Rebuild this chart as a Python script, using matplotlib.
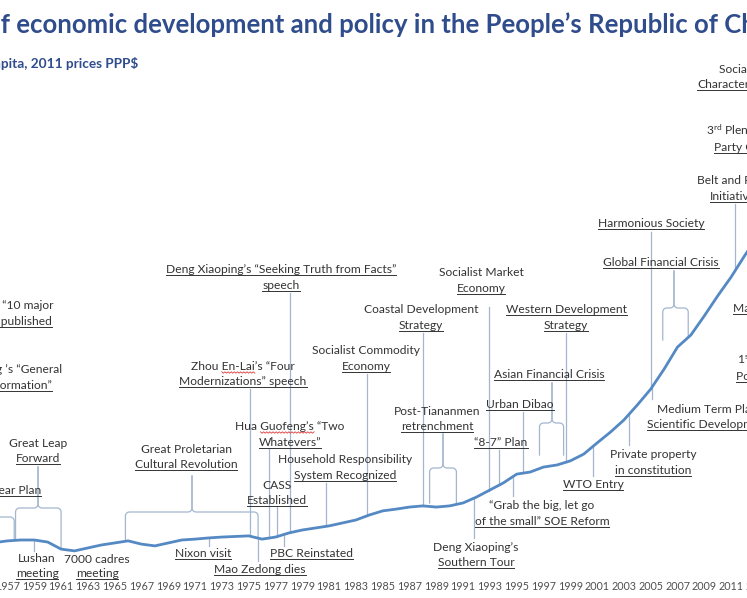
import numpy as np
import matplotlib
matplotlib.use('Agg')
import matplotlib.pyplot as plt
from matplotlib.font_manager import FontProperties

# ----------------------------- data -----------------------------
years = np.arange(1956, 2014)
gdp_per_capita = np.array([
    930, 990, 1020, 1020, 950, 710, 650, 750, 850, 920,
    990, 880, 820, 920, 1020, 1050, 1090, 1120, 1140, 1160,
    1050, 1120, 1260, 1360, 1430, 1500, 1600, 1700, 1870, 2010,
    2070, 2140, 2180, 2140, 2180, 2280, 2480, 2720, 2960, 3260,
    3330, 3500, 3570, 3710, 3940, 4320, 4690, 5100, 5610, 6150,
    6830, 7580, 7990, 8640, 9320, 9960, 10680, 11360])

tick_years = np.arange(1957, 2014, 2)
tick_labels = [str(y) for y in tick_years]

title = 'Timeline of economic development and policy in the People\u2019s Republic of China'
subtitle = 'GDP per capita, 2011 prices PPP$'

event_text = {
    'ten_major': ['Mao Zedong\u2019s \u201c10 major', 'relationships\u201d published'],
    'general_line': ['Mao Zedong \u2019s \u201cGeneral', 'Line for Socialist Transformation\u201d'],
    'five_year': ['First Five Year Plan'],
    'glf': ['Great Leap', 'Forward'],
    'lushan': ['Lushan', 'meeting'],
    'cadres': ['7000 cadres', 'meeting'],
    'cr': ['Great Proletarian', 'Cultural Revolution'],
    'nixon': ['Nixon visit'],
    'mao_dies': ['Mao Zedong dies'],
    'pbc': ['PBC Reinstated'],
    'cass': ['CASS', 'Established'],
    'hua': ['Hua Guofeng\u2019s \u201cTwo', 'Whatevers\u201d'],
    'zhou': ['Zhou En-Lai\u2019s \u201cFour', 'Modernizations\u201d speech'],
    'truth': ['Deng Xiaoping\u2019s \u201cSeeking Truth from Facts\u201d', 'speech'],
    'household': ['Household Responsibility', 'System Recognized'],
    'commodity': ['Socialist Commodity', 'Economy'],
    'coastal': ['Coastal Development', 'Strategy'],
    'post_t': ['Post-Tiananmen', 'retrenchment'],
    'southern': ['Deng Xiaoping\u2019s', 'Southern Tour'],
    'soc_market': ['Socialist Market', 'Economy'],
    'eight_seven': ['\u201c8-7\u201d Plan'],
    'dibao': ['Urban Dibao'],
    'grab': ['\u201cGrab the big, let go', 'of the small\u201d SOE Reform'],
    'asian': ['Asian Financial Crisis'],
    'western': ['Western Development', 'Strategy'],
    'wto': ['WTO Entry'],
    'private': ['Private property', 'in constitution'],
    'medium': ['Medium Term Plan for S&T', 'Scientific Development Concept'],
    'harmonious': ['Harmonious Society'],
    'gfc': ['Global Financial Crisis'],
    'made_in_china': ['Made in China 2025'],
    'first_po': [r'1$^{\rm st}$ Targeted', 'Poverty Alleviation'],
    'plenum': [r'3$^{\rm rd}$ Plenum of 18th', 'Party Congress'],
    'belt': ['Belt and Road', 'Initiative'],
    'socialism': ['Socialism with Chinese', 'Characteristics'],
}

# year (or period) each event points at
event_year = {
    'five_year': (1953.0, 1957.5),
    'glf': (1957.6, 1961.0),
    'lushan': 1959.0,
    'cr': (1965.8, 1975.7),
    'nixon': 1972.0,
    'mao_dies': 1975.7,
    'pbc': 1977.6,
    'cass': 1977.1,
    'hua': 1976.5,
    'zhou': 1975.1,
    'truth': 1978.1,
    'household': 1980.8,
    'commodity': 1983.8,
    'coastal': 1988.0,
    'post_t': (1988.5, 1990.5),
    'southern': 1991.8,
    'soc_market': 1992.9,
    'eight_seven': 1993.7,
    'dibao': 1995.5,
    'grab': 1994.7,
    'asian': (1996.7, 1998.5),
    'western': 1998.7,
    'wto': 2000.7,
    'private': 2003.4,
    'medium': 2005.1,
    'harmonious': 2005.0,
    'gfc': (2005.9, 2007.8),
    'belt': 2011.3,
}

# ----------------------------- layout (pixels) -----------------------------
W, H, DPI = 747, 598, 100
X0, PXY = 7.5, 13.4        # pixel column of 1957, pixels per year
Y0, VPP = 570.0, 34.0      # pixel row of zero, value per pixel

FONT = 'Lato'
TEXT = '#333333'
CONN = '#a3b6ce'
LINE = '#5489c4'
TITLE_C = '#2f4c8c'
TICK_C = '#505050'

LAYOUT = {
    'ten_major': dict(x=[53, 52], ha='right', ys=[305, 321], ul=[1]),
    'general_line': dict(x=[62, 52], ha='right', ys=[369, 385], ul=[1]),
    'five_year': dict(x=41, ha='right', ys=[490], ul=[0],
                      brace=dict(stem=-16, top=498, arm=517, bot=(None, None))),
    'glf': dict(x=38, ys=[443, 458], ul=[1],
                brace=dict(stem=38, top=467, arm=508, bot=(None, None))),
    'lushan': dict(x=37, ys=[558, 573], ul=[1], conn=551),
    'cadres': dict(x=97, ys=[559, 573], ul=[1]),
    'cr': dict(x=186, ys=[449, 464], ul=[1],
               brace=dict(stem=192, top=476, arm=512, bot=(None, None))),
    'nixon': dict(x=203, ys=[553], ul=[0], conn=546),
    'mao_dies': dict(x=260, ys=[569], ul=[0], conn=561),
    'pbc': dict(x=311, ys=[553], ul=[0], conn=546),
    'cass': dict(x=277, ys=[485, 500], ul=[1], conn=507),
    'hua': dict(x=290, ys=[426, 442], ul=[1], conn=449, sq=(0, 'Hua ', 'Guofeng\u2019s')),
    'zhou': dict(x=243, ys=[366, 381], ul=[1], conn=389, sq=(0, 'Zhou ', 'En-Lai')),
    'truth': dict(x=281, ys=[269, 285], ul=[0, 1], conn=293),
    'household': dict(x=345, ys=[459, 475], ul=[1], conn=483),
    'commodity': dict(x=366, ys=[350, 366], ul=[1], conn=374),
    'coastal': dict(x=421, ys=[309, 325], ul=[1], conn=333),
    'post_t': dict(x=437, ys=[411, 426], ul=[1],
                   brace=dict(stem=443, top=434, arm=468, bot=(503, 503))),
    'southern': dict(x=476, ys=[547, 562], ul=[1], conn=538),
    'soc_market': dict(x=481, ys=[272, 288], ul=[1], conn=307),
    'eight_seven': dict(x=501, ys=[442], ul=[0], conn=450),
    'dibao': dict(x=520, ys=[404], ul=[0], conn=412),
    'grab': dict(x=542, ys=[505, 521], ul=[1], conn=496),
    'asian': dict(x=549, ys=[374], ul=[0],
                  brace=dict(stem=552, top=383, arm=423, bot=(455, 455))),
    'western': dict(x=566, ys=[309, 325], ul=[0, 1], conn=333),
    'wto': dict(x=593, ys=[484], ul=[0], conn=476),
    'private': dict(x=653, ys=[454, 470], ul=[1], conn=445),
    'medium': dict(x=[657, 647], ha='left', ys=[409, 424], ul=[1], conn=399),
    'harmonious': dict(x=651, ys=[223], ul=[0], conn=232),
    'gfc': dict(x=661, ys=[262], ul=[0],
                brace=dict(stem=674, top=271, arm=308, bot=(340, None))),
    'made_in_china': dict(x=733, ha='left', ys=[308], ul=[0]),
    'first_po': dict(x=[737, 736], ha='left', ys=[360, 376], ul=[1]),
    'plenum': dict(x=[706, 714], ha='left', ys=[131, 147], ul=[1]),
    'belt': dict(x=[697, 710], ha='left', ys=[180, 196], ul=[1], conn=204),
    'socialism': dict(x=[719, 697], ha='left', ys=[69, 84], ul=[1]),
}


def yr(px):
    return 1957 + (px - X0) / PXY


def xpx(y):
    return X0 + (y - 1957) * PXY


def val(py):
    return (Y0 - py) * VPP


def ypx(v):
    return Y0 - v / VPP


def line_px_at(year):
    return ypx(np.interp(year, years, gdp_per_capita))


plt.rcParams['mathtext.fontset'] = 'custom'
plt.rcParams['mathtext.rm'] = FONT
plt.rcParams['mathtext.it'] = FONT + ':italic'
plt.rcParams['mathtext.bf'] = FONT + ':bold'

fig = plt.figure(figsize=(W / DPI, H / DPI), dpi=DPI)
fig.patch.set_facecolor('white')
ax = fig.add_axes([0, 0, 1, 1])
ax.set_xlim(yr(0), yr(W))
ax.set_ylim(val(H), val(0))
ax.axis('off')

renderer = fig.canvas.get_renderer()


def text_w(s, size, weight='normal'):
    prop = FontProperties(family=FONT, size=size, weight=weight)
    w, h, d = renderer.get_text_width_height_descent(s, prop, ismath=False)
    return w


# font sizes fitted to measured widths in the reference
refs = [('Great Proletarian', 90), ('Household Responsibility', 131),
        ('Global Financial Crisis', 112), ('Deng Xiaoping\u2019s \u201cSeeking Truth from Facts\u201d', 245)]
ann_fs = float(np.mean([10 * w / text_w(s, 10) for s, w in refs]))
tick_fs = 10 * 25 / text_w('1987', 10)
vis_title = 'f economic development and policy in the People\u2019s Republic of '
title_fs = 16 * 727 / text_w(vis_title, 16, 'bold')
sub_fs = 10 * 137 / text_w('pita, 2011 prices PPP$', 10, 'bold')

# title & subtitle (cropped on the left like the reference)
tx = 1 - text_w('Timeline o', title_fs, 'bold')
ax.text(yr(tx), val(33), title, ha='left', va='baseline', fontsize=title_fs,
        fontweight='bold', color=TITLE_C, family=FONT)
sx = 1 - text_w('GDP per ca', sub_fs, 'bold')
ax.text(yr(sx), val(68), subtitle, ha='left', va='baseline', fontsize=sub_fs,
        fontweight='bold', color=TITLE_C, family=FONT)

# main series
ax.plot(years, gdp_per_capita, color=LINE, lw=2.0, zorder=3,
        solid_joinstyle='round', solid_capstyle='round')

# x tick labels
for ty, tl in zip(tick_years, tick_labels):
    ax.text(ty, val(590), tl, ha='center', va='baseline', fontsize=tick_fs,
            color=TICK_C, family=FONT)


def draw_px_path(pts, **kw):
    xs = [yr(p[0]) for p in pts]
    ys = [val(p[1]) for p in pts]
    ax.plot(xs, ys, **kw)


def brace(x0, x1, stem, top, arm, b0, b1, r=4.0):
    t = np.linspace(0, np.pi / 2, 8)
    left = [(stem, top)]
    left += [(stem - r + r * np.cos(a), arm - r + r * np.sin(a)) for a in t]
    t2 = np.linspace(-np.pi / 2, -np.pi, 8)
    left += [(x0 + r + r * np.cos(a), arm + r + r * np.sin(a)) for a in t2]
    left += [(x0, b0)]
    right = [(stem, top)]
    t3 = np.linspace(np.pi, np.pi / 2, 8)
    right += [(stem + r + r * np.cos(a), arm - r + r * np.sin(a)) for a in t3]
    t4 = np.linspace(-np.pi / 2, 0, 8)
    right += [(x1 - r + r * np.cos(a), arm + r + r * np.sin(a)) for a in t4]
    right += [(x1, b1)]
    draw_px_path(left, color=CONN, lw=0.9, zorder=2)
    draw_px_path(right, color=CONN, lw=0.9, zorder=2)


underlines = []
squiggles = []
for key, lines in event_text.items():
    L = LAYOUT[key]
    xs = L['x'] if isinstance(L['x'], list) else [L['x']] * len(lines)
    ha = L.get('ha', 'center')
    objs = []
    for i, s in enumerate(lines):
        base = L['ys'][i] + 4
        t = ax.text(yr(xs[i]), val(base), s, ha=ha, va='baseline', fontsize=ann_fs,
                    color=TEXT, family=FONT, zorder=5)
        objs.append((t, base))
        if i in L.get('ul', []):
            underlines.append((t, base))
    if 'sq' in L:
        i, pre, word = L['sq']
        squiggles.append((objs[i][0], objs[i][1], pre, word))
    if 'conn' in L:
        ey = event_year[key]
        draw_px_path([(xpx(ey), L['conn']), (xpx(ey), line_px_at(ey))],
                     color=CONN, lw=0.9, zorder=2)
    if 'brace' in L:
        B = L['brace']
        e0, e1 = event_year[key]
        b0 = B['bot'][0] if B['bot'][0] is not None else line_px_at(e0)
        b1 = B['bot'][1] if B['bot'][1] is not None else line_px_at(e1)
        brace(xpx(e0), xpx(e1), B['stem'], B['top'], B['arm'], b0, b1)

fig.canvas.draw()
renderer = fig.canvas.get_renderer()
for t, base in underlines:
    bb = t.get_window_extent(renderer)
    draw_px_path([(bb.x0, base + 2.2), (bb.x1, base + 2.2)], color=TEXT, lw=0.7, zorder=5)

for t, base, pre, word in squiggles:
    bb = t.get_window_extent(renderer)
    xa = bb.x0 + text_w(pre, ann_fs)
    xb = xa + text_w(word, ann_fs)
    n = max(int((xb - xa) / 1.5), 2)
    zx = np.linspace(xa, xb, n)
    zy = base + 2.5 + np.where(np.arange(n) % 2 == 0, -0.7, 0.7)
    draw_px_path(list(zip(zx, zy)), color='#e03c3c', lw=0.6, zorder=6)

fig.savefig('out.png', dpi=DPI, facecolor='white')
